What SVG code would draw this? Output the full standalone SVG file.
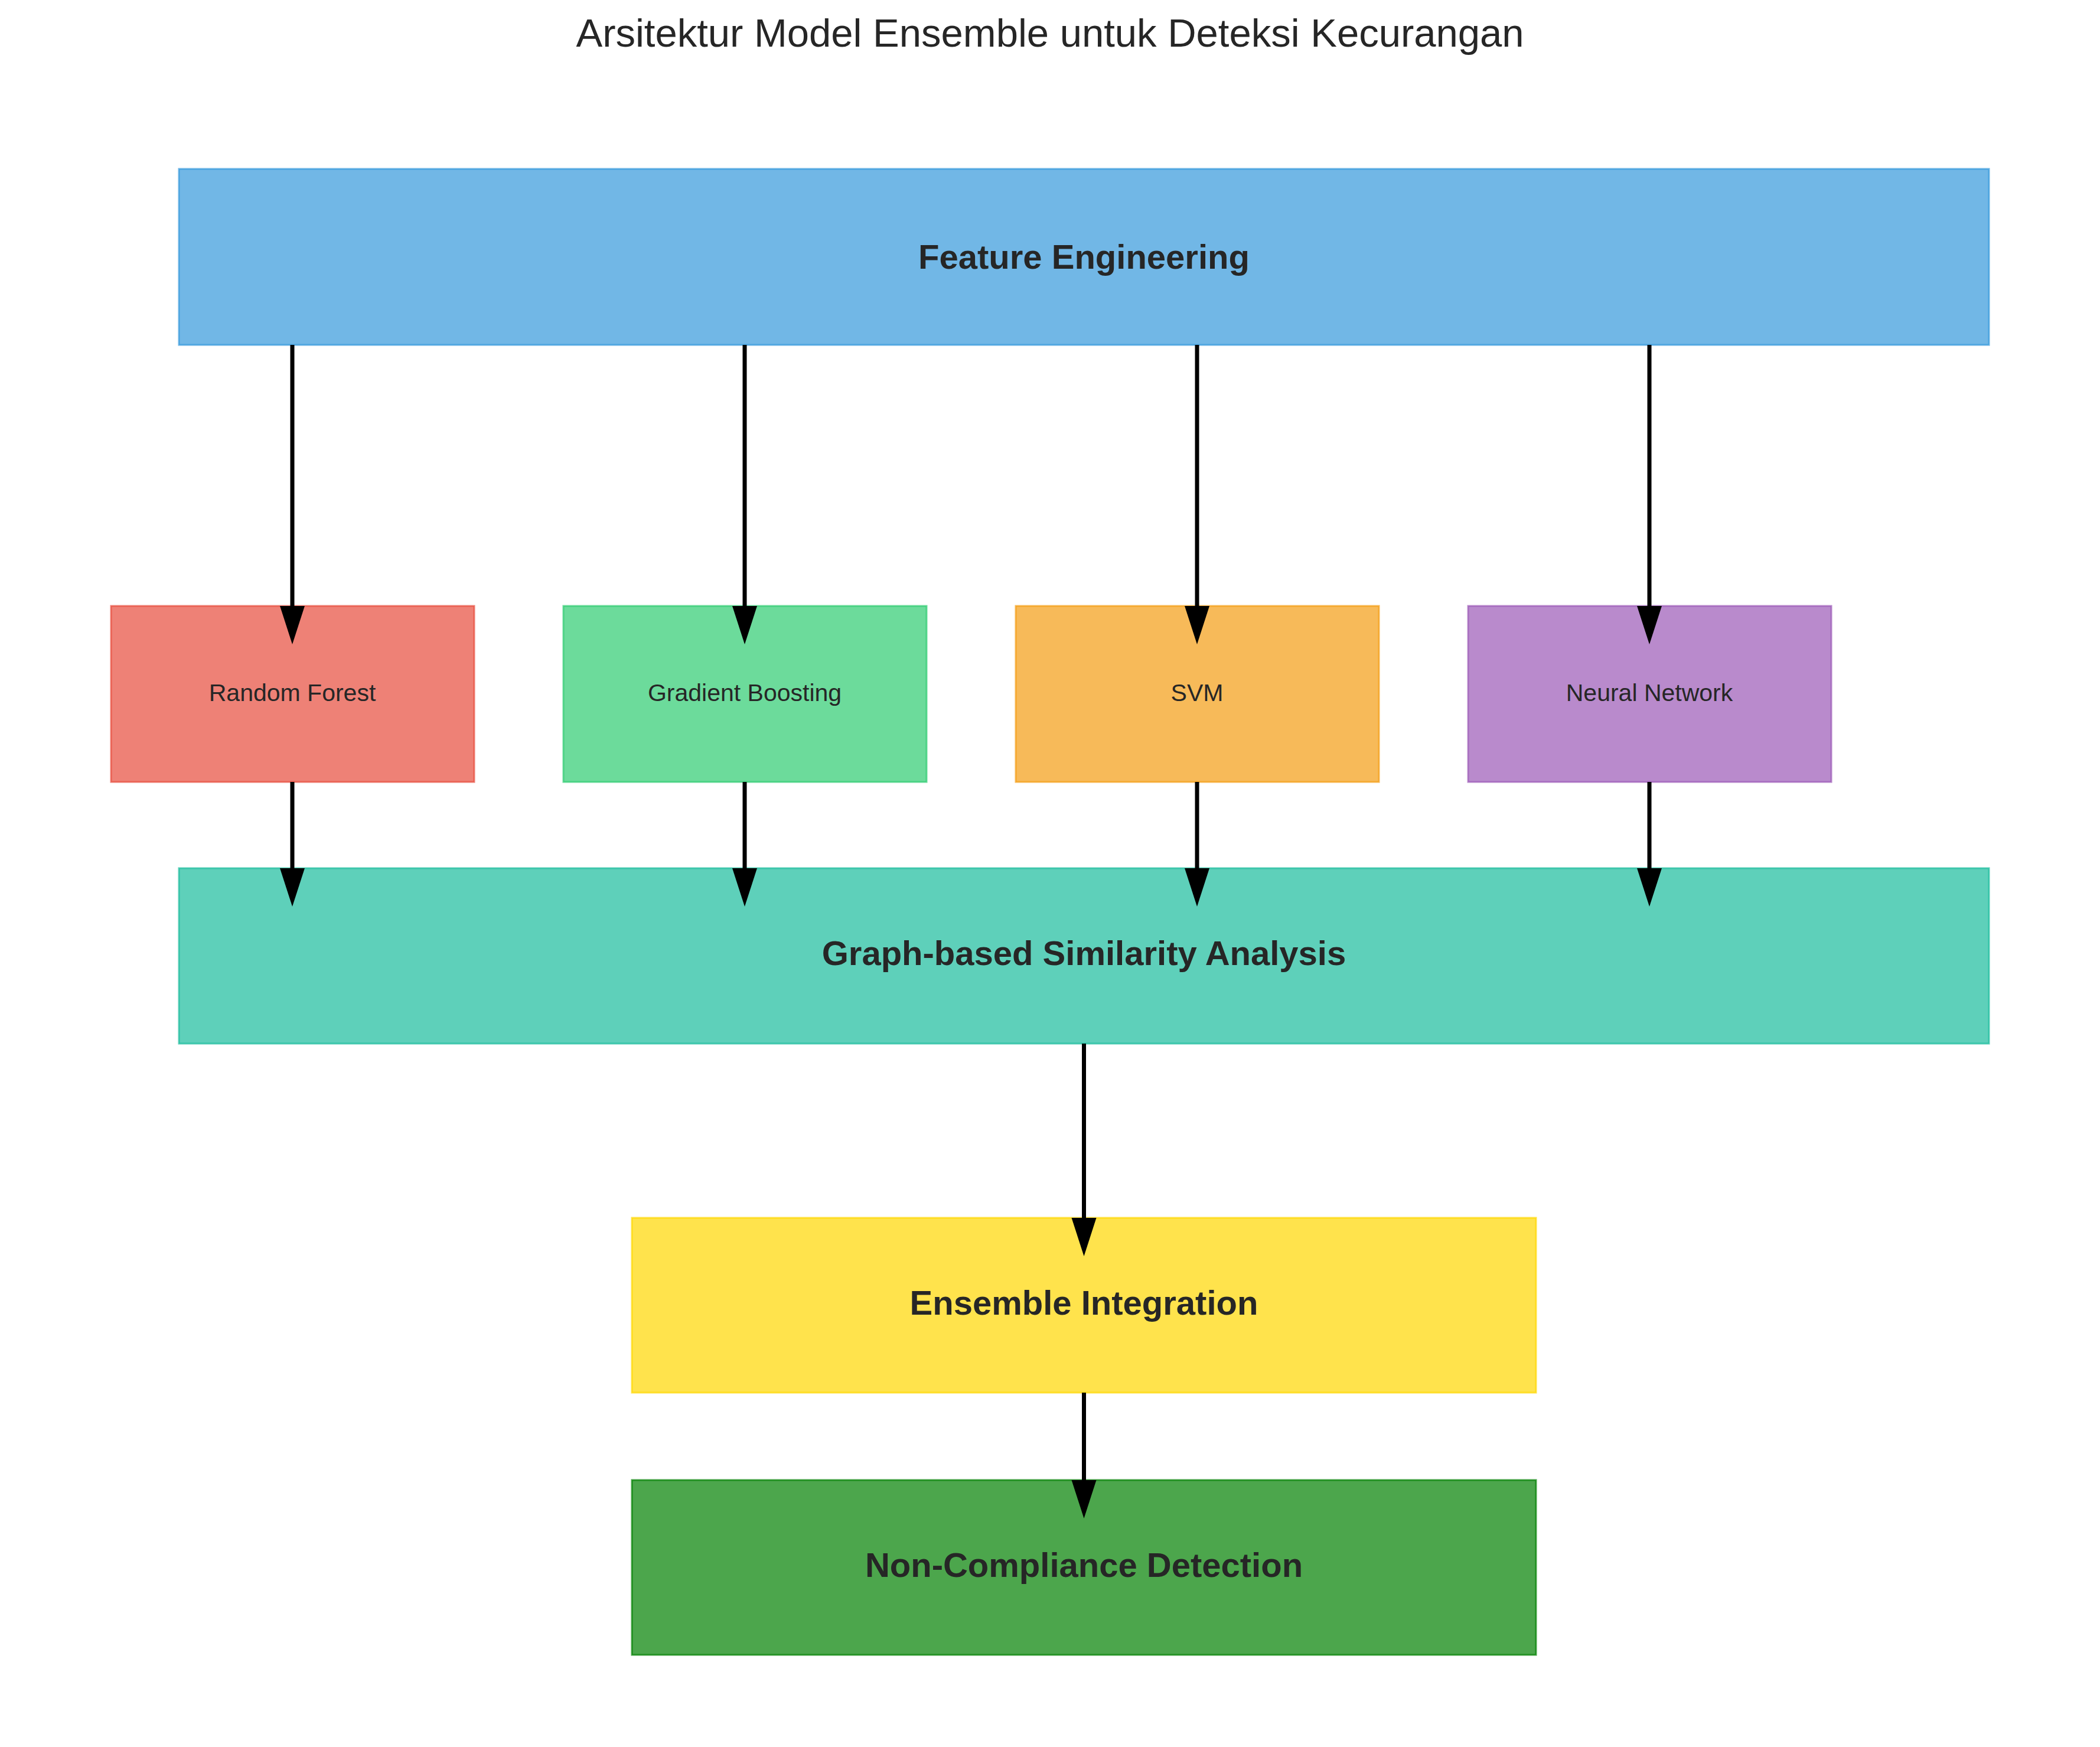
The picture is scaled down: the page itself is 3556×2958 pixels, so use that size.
<svg xmlns="http://www.w3.org/2000/svg" width="3556" height="2958" viewBox="0 0 3556 2958">
<style>
  .box { stroke-width: 3; fill-opacity: 0.7; stroke-opacity: 0.7; }
  .big { font-family: "Liberation Sans", Arial, sans-serif; font-weight: bold; font-size: 58px; fill: #262626; text-anchor: middle; }
  .small { font-family: "Liberation Sans", Arial, sans-serif; font-size: 41px; fill: #262626; text-anchor: middle; }
  .title { font-family: "Liberation Sans", Arial, sans-serif; font-size: 67px; fill: #262626; text-anchor: middle; }
  .edge { stroke: #000000; stroke-width: 7; fill: none; }
  .head { fill: #000000; }
</style>
<rect x="0" y="0" width="3556" height="2958" fill="#ffffff"/>
<text class="title" x="1778" y="79">Arsitektur Model Ensemble untuk Deteksi Kecurangan</text>

<g id="node-feature-engineering">
  <rect class="box" x="303" y="286" width="3065" height="298" fill="#3498db" stroke="#3498db"/>
  <text class="big" x="1835.5" y="455">Feature Engineering</text>
</g>
<g id="node-random-forest">
  <rect class="box" x="188" y="1026" width="615" height="298" fill="#e74c3c" stroke="#e74c3c"/>
  <text class="small" x="495" y="1187">Random Forest</text>
</g>
<g id="node-gradient-boosting">
  <rect class="box" x="954" y="1026" width="615" height="298" fill="#2ecc71" stroke="#2ecc71"/>
  <text class="small" x="1261" y="1187">Gradient Boosting</text>
</g>
<g id="node-svm">
  <rect class="box" x="1720" y="1026" width="615" height="298" fill="#f39c12" stroke="#f39c12"/>
  <text class="small" x="2027" y="1187">SVM</text>
</g>
<g id="node-neural-network">
  <rect class="box" x="2486" y="1026" width="615" height="298" fill="#9b59b6" stroke="#9b59b6"/>
  <text class="small" x="2793" y="1187">Neural Network</text>
</g>
<g id="node-graph-similarity">
  <rect class="box" x="303" y="1470" width="3065" height="297" fill="#1abc9c" stroke="#1abc9c"/>
  <text class="big" x="1835.5" y="1634">Graph-based Similarity Analysis</text>
</g>
<g id="node-ensemble-integration">
  <rect class="box" x="1070" y="2062" width="1531" height="296" fill="#ffd700" stroke="#ffd700"/>
  <text class="big" x="1835.5" y="2226">Ensemble Integration</text>
</g>
<g id="node-non-compliance">
  <rect class="box" x="1070" y="2506" width="1531" height="296" fill="#008000" stroke="#008000"/>
  <text class="big" x="1835.5" y="2670">Non-Compliance Detection</text>
</g>

<g id="connectors">
  <line class="edge" x1="495" y1="584" x2="495" y2="1030"/>
  <polygon class="head" points="474,1026 516,1026 495,1091"/>
  <line class="edge" x1="1261" y1="584" x2="1261" y2="1030"/>
  <polygon class="head" points="1240,1026 1282,1026 1261,1091"/>
  <line class="edge" x1="2027" y1="584" x2="2027" y2="1030"/>
  <polygon class="head" points="2006,1026 2048,1026 2027,1091"/>
  <line class="edge" x1="2793" y1="584" x2="2793" y2="1030"/>
  <polygon class="head" points="2772,1026 2814,1026 2793,1091"/>

  <line class="edge" x1="495" y1="1324" x2="495" y2="1474"/>
  <polygon class="head" points="474,1470 516,1470 495,1535"/>
  <line class="edge" x1="1261" y1="1324" x2="1261" y2="1474"/>
  <polygon class="head" points="1240,1470 1282,1470 1261,1535"/>
  <line class="edge" x1="2027" y1="1324" x2="2027" y2="1474"/>
  <polygon class="head" points="2006,1470 2048,1470 2027,1535"/>
  <line class="edge" x1="2793" y1="1324" x2="2793" y2="1474"/>
  <polygon class="head" points="2772,1470 2814,1470 2793,1535"/>

  <line class="edge" x1="1835.5" y1="1767" x2="1835.5" y2="2066"/>
  <polygon class="head" points="1814.5,2062 1856.5,2062 1835.5,2127"/>
  <line class="edge" x1="1835.5" y1="2358" x2="1835.5" y2="2510"/>
  <polygon class="head" points="1814.5,2506 1856.5,2506 1835.5,2571"/>
</g>
</svg>
